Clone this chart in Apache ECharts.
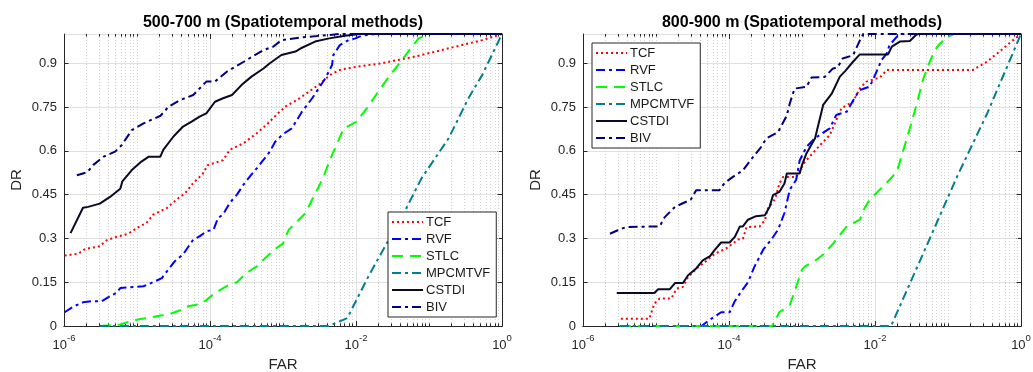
<!DOCTYPE html>
<html>
<head>
<meta charset="utf-8">
<script src="https://cdn.jsdelivr.net/npm/echarts@6/dist/echarts.min.js"></script>
<style>
  html, body { margin: 0; padding: 0; background: #fff; }
  #chart { width: 1033px; height: 372px; }
</style>
</head>
<body>
<div id="chart"></div>
<script>
// ---- data: [FAR, DR] ----
const seriesNames = ["TCF", "RVF", "STLC", "MPCMTVF", "CSTDI", "BIV"];
const panelTitles = ["500-700 m (Spatiotemporal methods)", "800-900 m (Spatiotemporal methods)"];
const farTicks = [1e-6, 1e-4, 1e-2, 1];
const drTicks = [0, 0.15, 0.3, 0.45, 0.6, 0.75, 0.9];

// 500-700 m
const tcfA = [[1.02e-6,0.241],[1.58e-6,0.248],[1.95e-6,0.264],[3.09e-6,0.273],[3.8e-6,0.293],[5.2e-6,0.305],[7.6e-6,0.316],[1.0e-5,0.336],[1.35e-5,0.353],[1.66e-5,0.381],[2.57e-5,0.404],[3.47e-5,0.433],[4.57e-5,0.455],[5.9e-5,0.49],[7.9e-5,0.52],[9.3e-5,0.551],[1.51e-4,0.568],[1.86e-4,0.603],[2.88e-4,0.626],[4.37e-4,0.66],[5.9e-4,0.688],[8.1e-4,0.723],[1.07e-3,0.751],[1.58e-3,0.775],[2.34e-3,0.805],[3.24e-3,0.83],[4.37e-3,0.859],[6.0e-3,0.877],[9.1e-3,0.886],[2.29e-2,0.9],[6.5e-2,0.923],[0.186,0.951],[0.537,0.979],[1,1]];
const rvfA = [[1.02e-6,0.047],[1.35e-6,0.067],[1.82e-6,0.081],[2.4e-6,0.085],[3.3e-6,0.085],[4.27e-6,0.102],[5.2e-6,0.113],[5.9e-6,0.13],[1.23e-5,0.136],[1.66e-5,0.15],[2.19e-5,0.164],[2.57e-5,0.187],[3.3e-5,0.222],[4.27e-5,0.245],[5.9e-5,0.296],[7.2e-5,0.307],[8.9e-5,0.324],[1.12e-4,0.33],[1.29e-4,0.37],[1.51e-4,0.382],[1.86e-4,0.421],[2.34e-4,0.45],[2.88e-4,0.484],[3.55e-4,0.513],[4.37e-4,0.54],[5.6e-4,0.574],[6.6e-4,0.597],[7.8e-4,0.631],[1.0e-3,0.657],[1.32e-3,0.677],[1.82e-3,0.734],[2.51e-3,0.78],[3.8e-3,0.848],[4.7e-3,0.894],[4.9e-3,0.928],[6.0e-3,0.962],[7.9e-3,0.979],[9.8e-3,0.985],[1.2e-2,0.994],[1.82e-2,1],[1,1]];
const stlcA = [[3.1e-6,0],[5.9e-6,0.005],[7.6e-6,0.014],[1.1e-5,0.024],[1.35e-5,0.027],[2.09e-5,0.036],[2.69e-5,0.039],[3.9e-5,0.054],[4.8e-5,0.067],[7.2e-5,0.075],[8.5e-5,0.085],[1.17e-4,0.113],[1.86e-4,0.142],[2.34e-4,0.15],[3.16e-4,0.182],[4.37e-4,0.204],[5.4e-4,0.227],[8.1e-4,0.267],[1.0e-3,0.282],[1.2e-3,0.33],[1.41e-3,0.347],[2.04e-3,0.387],[2.51e-3,0.433],[3.1e-3,0.478],[3.6e-3,0.513],[4.7e-3,0.586],[6.8e-3,0.677],[8.3e-3,0.688],[1.02e-2,0.7],[1.41e-2,0.746],[1.95e-2,0.797],[2.82e-2,0.854],[4.1e-2,0.905],[5.2e-2,0.94],[7.2e-2,0.985],[0.1,1],[1,1]];
const mpcA = [[3.1e-6,0],[4.2e-3,0],[7.6e-3,0.027],[1.48e-2,0.17],[2.82e-2,0.296],[4.79e-2,0.399],[7.9e-2,0.506],[0.186,0.643],[0.347,0.78],[0.537,0.86],[1,1]];
const cstdiA = [[1.23e-6,0.318],[1.82e-6,0.405],[2.14e-6,0.408],[3.09e-6,0.419],[4.27e-6,0.442],[5.9e-6,0.47],[6.3e-6,0.495],[8.5e-6,0.534],[1.15e-5,0.563],[1.45e-5,0.58],[2.09e-5,0.58],[2.29e-5,0.603],[3.16e-5,0.649],[4.27e-5,0.683],[5.6e-5,0.7],[7.2e-5,0.717],[8.9e-5,0.728],[1.17e-4,0.768],[1.51e-4,0.78],[2.0e-4,0.791],[2.7e-4,0.825],[3.7e-4,0.854],[5.4e-4,0.882],[6.6e-4,0.9],[9.5e-4,0.928],[1.48e-3,0.94],[1.82e-3,0.953],[2.75e-3,0.974],[4.3e-3,0.985],[7.1e-3,0.994],[1.12e-2,1],[1,1]];
const bivA = [[1.5e-6,0.516],[2.1e-6,0.527],[2.5e-6,0.551],[3.5e-6,0.58],[5.0e-6,0.597],[6.2e-6,0.62],[8.5e-6,0.671],[1.23e-5,0.694],[2.1e-5,0.72],[2.7e-5,0.751],[3.9e-5,0.774],[5.9e-5,0.791],[8.9e-5,0.837],[1.17e-4,0.837],[1.7e-4,0.871],[2.9e-4,0.905],[5.4e-4,0.945],[7.4e-4,0.957],[9.5e-4,0.979],[1.7e-3,0.988],[4.0e-3,0.996],[6.0e-3,1],[1,1]];

// 800-900 m
const tcfB = [[3.3e-6,0.025],[8.1e-6,0.025],[9.5e-6,0.077],[1.12e-5,0.094],[1.62e-5,0.094],[1.91e-5,0.128],[2.34e-5,0.134],[2.75e-5,0.168],[3.8e-5,0.202],[4.7e-5,0.219],[6.0e-5,0.242],[7.1e-5,0.253],[9.1e-5,0.265],[1.12e-4,0.282],[1.32e-4,0.296],[1.55e-4,0.299],[1.74e-4,0.339],[2.63e-4,0.341],[3.1e-4,0.362],[3.4e-4,0.402],[4.3e-4,0.436],[4.9e-4,0.488],[5.5e-4,0.51],[8.3e-4,0.51],[1.1e-3,0.563],[1.78e-3,0.62],[2.4e-3,0.654],[3.47e-3,0.746],[5.0e-3,0.768],[6.2e-3,0.814],[7.6e-3,0.837],[1.17e-2,0.851],[1.45e-2,0.877],[0.22,0.877],[0.34,0.905],[0.51,0.94],[0.78,0.979],[1,1]];
const rvfB = [[3.2e-6,0],[4.2e-5,0],[5.5e-5,0.022],[7.8e-5,0.047],[1.02e-4,0.047],[1.2e-4,0.085],[1.48e-4,0.119],[1.82e-4,0.15],[2.24e-4,0.204],[2.95e-4,0.262],[3.8e-4,0.296],[4.7e-4,0.33],[5.75e-4,0.387],[6.8e-4,0.467],[8.3e-4,0.5],[9.3e-4,0.567],[1.15e-3,0.613],[1.48e-3,0.642],[2.4e-3,0.677],[2.95e-3,0.723],[4.1e-3,0.734],[5.4e-3,0.786],[6.2e-3,0.808],[8.5e-3,0.82],[1.05e-2,0.871],[1.23e-2,0.911],[1.45e-2,0.934],[1.58e-2,0.962],[2.0e-2,0.991],[2.3e-2,1],[1,1]];
const stlcB = [[3.2e-6,0],[3.9e-4,0],[4.9e-4,0.048],[6.8e-4,0.071],[8.3e-4,0.134],[1.0e-3,0.193],[1.1e-3,0.204],[1.58e-3,0.227],[1.95e-3,0.245],[2.7e-3,0.284],[4.1e-3,0.341],[6.2e-3,0.364],[7.2e-3,0.404],[8.5e-3,0.433],[1.29e-2,0.478],[1.58e-2,0.501],[2.0e-2,0.529],[3.0e-2,0.677],[3.7e-2,0.757],[4.6e-2,0.848],[5.4e-2,0.894],[6.6e-2,0.945],[7.8e-2,0.968],[0.107,0.994],[0.12,1],[1,1]];
const mpcB = [[3.2e-6,0],[1.66e-2,0],[5.6e-2,0.298],[0.135,0.515],[0.34,0.725],[1,1]];
const cstdiB = [[2.9e-6,0.113],[9.5e-6,0.113],[1.07e-5,0.126],[1.55e-5,0.126],[1.82e-5,0.147],[2.34e-5,0.147],[2.75e-5,0.174],[3.55e-5,0.197],[4.37e-5,0.225],[5.5e-5,0.239],[6.3e-5,0.259],[7.8e-5,0.286],[1.02e-4,0.286],[1.2e-4,0.305],[1.41e-4,0.341],[1.55e-4,0.341],[1.82e-4,0.364],[2.34e-4,0.376],[3.1e-4,0.379],[3.6e-4,0.408],[4.0e-4,0.448],[4.9e-4,0.459],[5.75e-4,0.488],[6.2e-4,0.522],[9.3e-4,0.522],[1.0e-3,0.551],[1.15e-3,0.591],[1.51e-3,0.643],[1.95e-3,0.757],[2.57e-3,0.797],[3.3e-3,0.854],[3.9e-3,0.873],[5.0e-3,0.905],[6.2e-3,0.93],[1.51e-2,0.93],[1.7e-2,0.957],[2.19e-2,0.974],[3.0e-2,0.976],[3.55e-2,0.994],[3.9e-2,1],[1,1]];
const bivB = [[2.34e-6,0.316],[3.0e-6,0.328],[3.9e-6,0.339],[1.12e-5,0.341],[1.32e-5,0.373],[1.82e-5,0.408],[3.0e-5,0.433],[3.55e-5,0.465],[7.4e-5,0.465],[8.7e-5,0.49],[1.12e-4,0.51],[1.55e-4,0.533],[2.14e-4,0.579],[2.75e-4,0.613],[3.24e-4,0.642],[4.7e-4,0.664],[6.2e-4,0.721],[6.8e-4,0.762],[7.9e-4,0.813],[1.15e-3,0.819],[1.35e-3,0.851],[2.04e-3,0.853],[2.63e-3,0.881],[3.1e-3,0.887],[3.6e-3,0.916],[5.0e-3,0.927],[6.2e-3,0.978],[6.9e-3,1],[1,1]];

const panelData = [
  [tcfA, rvfA, stlcA, mpcA, cstdiA, bivA],
  [tcfB, rvfB, stlcB, mpcB, cstdiB, bivB],
];

// ---- styling ----
const font = "Liberation Sans, Arial, Helvetica, sans-serif";
const axisColor = "#262626";
const lineStyles = {
  TCF: { color: "#ff0000", type: [2, 3] },
  RVF: { color: "#0000ff", type: [9, 4, 3, 4] },
  STLC: { color: "#00ff00", type: [11, 7] },
  MPCMTVF: { color: "#00808c", type: [9, 4, 3, 4] },
  CSTDI: { color: "#0a0a28", type: "solid" },
  BIV: { color: "#00007f", type: [9, 4, 3, 4] },
};
const grids = [
  { left: 64, top: 34, width: 438, height: 292 },
  { left: 583, top: 34, width: 438, height: 292 },
];
const legendPos = [
  { left: 388, top: 212 },
  { left: 592, top: 43 },
];

// minor decade positions (2..9 x 10^k, and the unlabeled decades)
const minorFar = [];
for (let d = -6; d < 0; d++) {
  for (let k = 1; k <= 9; k++) {
    if (k === 1 && d % 2 === 0) continue;
    minorFar.push(Number((k * Math.pow(10, d)).toPrecision(3)));
  }
}
const innerMajorFar = farTicks.slice(1, -1);

function gridLines(xi, yi) {
  const minorGrid = { color: "#d4d4d4", width: 1, type: [1, 2] };
  const majorGrid = { color: "#e0e0e0", width: 1, type: "solid" };
  const tick = { color: axisColor, width: 1, type: "solid" };
  const lines = [];
  minorFar.forEach((v) => {
    lines.push([{ coord: [v, 0], lineStyle: minorGrid }, { coord: [v, 1] }]);
    lines.push([{ coord: [v, 0], lineStyle: tick }, { coord: [v, 0.009] }]);
    lines.push([{ coord: [v, 0.991], lineStyle: tick }, { coord: [v, 1] }]);
  });
  innerMajorFar.forEach((v) => {
    lines.push([{ coord: [v, 0], lineStyle: majorGrid }, { coord: [v, 1] }]);
    lines.push([{ coord: [v, 0], lineStyle: tick }, { coord: [v, 0.017] }]);
    lines.push([{ coord: [v, 0.983], lineStyle: tick }, { coord: [v, 1] }]);
  });
  return {
    type: "line",
    name: "_grid",
    xAxisIndex: xi,
    yAxisIndex: yi,
    data: [],
    z: 1,
    silent: true,
    animation: false,
    markLine: {
      z: 1,
      silent: true,
      animation: false,
      symbol: ["none", "none"],
      label: { show: false },
      emphasis: { disabled: true },
      data: lines,
    },
  };
}

function farLabel(v) {
  const e = Math.round(Math.log10(v));
  if (!farTicks.some((t) => Math.abs(Math.log10(t) - e) < 1e-6)) return "";
  return "{b|10}{s|" + e + "}";
}

const xAxes = [];
const yAxes = [];
grids.forEach((g, i) => {
  xAxes.push({
    type: "log", logBase: 10, gridIndex: i, min: 1e-6, max: 1, position: "bottom",
    name: "FAR", nameLocation: "middle", nameGap: 30,
    nameTextStyle: { fontFamily: font, fontSize: 15, color: axisColor },
    axisLine: { show: true, lineStyle: { color: axisColor, width: 1 } },
    axisTick: { show: false },
    splitLine: { show: false },
    axisLabel: {
      showMinLabel: true, showMaxLabel: true, margin: 7,
      formatter: farLabel,
      rich: {
        b: { fontFamily: font, fontSize: 13, color: axisColor, lineHeight: 19, padding: [6, 0, 0, 0], verticalAlign: "bottom" },
        s: { fontFamily: font, fontSize: 9.5, color: axisColor, lineHeight: 10, verticalAlign: "top" },
      },
    },
  });
  xAxes.push({
    type: "log", logBase: 10, gridIndex: i, min: 1e-6, max: 1, position: "top",
    axisLine: { show: true, lineStyle: { color: axisColor, width: 1 } },
    axisTick: { show: false }, axisLabel: { show: false }, splitLine: { show: false },
  });
  yAxes.push({
    type: "value", gridIndex: i, min: 0, max: 1, interval: 0.15, position: "left",
    name: "DR", nameLocation: "middle", nameGap: 40,
    nameTextStyle: { fontFamily: font, fontSize: 15, color: axisColor },
    axisLine: { show: true, lineStyle: { color: axisColor, width: 1 } },
    axisTick: { show: true, inside: true, length: 4.5, lineStyle: { color: axisColor } },
    axisLabel: { showMaxLabel: false, margin: 7, fontFamily: font, fontSize: 13, color: axisColor },
    splitLine: { show: true, lineStyle: { color: "#e0e0e0", width: 1 } },
  });
  yAxes.push({
    type: "value", gridIndex: i, min: 0, max: 1, interval: 0.15, position: "right",
    axisLine: { show: true, lineStyle: { color: axisColor, width: 1 } },
    axisTick: { show: true, inside: true, length: 4.5, lineStyle: { color: axisColor } },
    axisLabel: { show: false },
    splitLine: { show: false },
  });
});

const series = [];
panelData.forEach((curves, p) => {
  series.push(gridLines(p * 2, p * 2));
  curves.forEach((pts, k) => {
    const name = seriesNames[k];
    const st = lineStyles[name];
    series.push({
      type: "line",
      name: name,
      xAxisIndex: p * 2,
      yAxisIndex: p * 2,
      data: pts,
      symbol: "none",
      showSymbol: false,
      clip: false,
      z: 3,
      animation: false,
      itemStyle: { color: st.color },
      lineStyle: { color: st.color, width: 2, type: st.type },
      emphasis: { disabled: true },
    });
  });
});

const chart = echarts.init(document.getElementById("chart"), null, { renderer: "canvas" });
chart.setOption({
  backgroundColor: "#ffffff",
  animation: false,
  title: panelTitles.map((t, i) => ({
    text: t,
    left: grids[i].left + grids[i].width / 2,
    top: 15,
    textAlign: "center",
    padding: 0,
    textStyle: { fontFamily: font, fontSize: 16, fontWeight: "bold", color: "#000" },
  })),
  grid: grids.map((g) => Object.assign({ containLabel: false, outerBoundsMode: "none" }, g)),
  legend: legendPos.map((pos) => ({
    data: seriesNames,
    left: pos.left,
    top: pos.top,
    z: 10,
    orient: "vertical",
    itemWidth: 31,
    itemHeight: 14,
    itemGap: 4,
    padding: [3.5, 6, 3.5, 3],
    backgroundColor: "#fff",
    borderColor: axisColor,
    borderWidth: 1,
    borderRadius: 0,
    selectedMode: false,
    itemStyle: { opacity: 0 },
    textStyle: { fontFamily: font, fontSize: 13, color: "#1a1a1a", padding: [0, 0, 0, -2] },
  })),
  xAxis: xAxes,
  yAxis: yAxes,
  series: series,
});
</script>
</body>
</html>
